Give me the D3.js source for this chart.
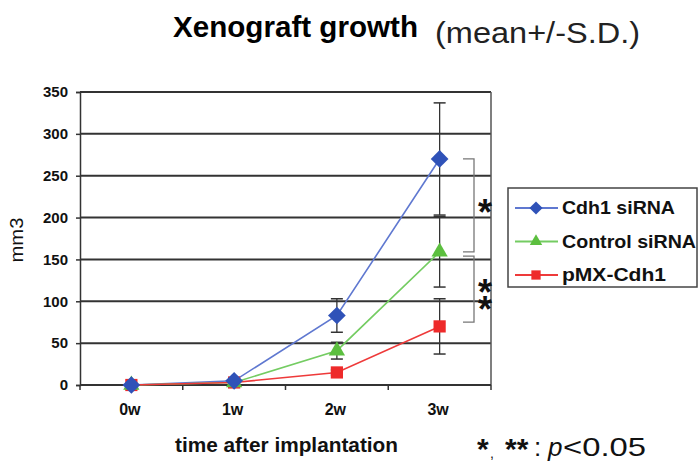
<!DOCTYPE html>
<html>
<head>
<meta charset="utf-8">
<script src="https://cdn.jsdelivr.net/npm/d3@7"></script>
<style>
  html, body { margin: 0; padding: 0; background: #fff; }
  svg { display: block; font-family: "Liberation Sans", Arial, sans-serif; }
</style>
</head>
<body>
<svg id="chart" width="698" height="466"></svg>
<script>
// Weeks after implantation
const weeks = ["0w", "1w", "2w", "3w"];
const yTicks = [0, 50, 100, 150, 200, 250, 300, 350];

// Tumour volume (mm3), mean and standard deviation per group
const cdh1Mean = [0, 5, 83, 270];
const cdh1SD = [0, 1, 20, 67];
const controlMean = [0, 3, 41, 159];
const controlSD = [0, 1, 10, 42];
const pmxMean = [0, 3, 15, 70];
const pmxSD = [0, 1, 3, 33];

const seriesNames = ["Cdh1 siRNA", "Control siRNA", "pMX-Cdh1"];

const series = [
  { name: seriesNames[0], mean: cdh1Mean, sd: cdh1SD, line: "#5f78d0", fill: "#2f52b8", shape: d3.symbolDiamond2, w: 113 },
  { name: seriesNames[1], mean: controlMean, sd: controlSD, line: "#74cc62", fill: "#5cbf3f", shape: d3.symbolTriangle2, w: 134 },
  { name: seriesNames[2], mean: pmxMean, sd: pmxSD, line: "#ee3a3a", fill: "#ee2a2a", shape: d3.symbolSquare2, w: 104 }
];

const svg = d3.select("#chart");
const m = { left: 80, right: 491, top: 92, bottom: 385 };

const x = d3.scaleBand().domain(weeks).range([m.left, m.right]);
const y = d3.scaleLinear().domain([0, 350]).range([m.bottom, m.top]);
const cx = w => x(w) + x.bandwidth() / 2;

// Title
svg.append("text").attr("x", 173).attr("y", 37)
  .attr("font-weight", "bold").attr("font-size", 30)
  .attr("textLength", 245).attr("lengthAdjust", "spacingAndGlyphs")
  .text("Xenograft growth");
svg.append("text").attr("x", 435).attr("y", 43)
  .attr("font-size", 30).attr("fill", "#222")
  .attr("textLength", 205).attr("lengthAdjust", "spacingAndGlyphs")
  .text("(mean+/-S.D.)");

// Horizontal gridlines
svg.append("g").selectAll("line").data(yTicks.filter(t => t > 0)).join("line")
  .attr("x1", m.left).attr("x2", m.right)
  .attr("y1", d => y(d)).attr("y2", d => y(d))
  .attr("stroke", "#333").attr("stroke-width", 2);

// Right border of plot area
svg.append("line").attr("x1", m.right).attr("x2", m.right)
  .attr("y1", m.top).attr("y2", m.bottom)
  .attr("stroke", "#555").attr("stroke-width", 1.5);

// Y axis
const yAxis = svg.append("g").attr("transform", `translate(${m.left},0)`)
  .call(d3.axisLeft(y).tickValues(yTicks).tickSize(4).tickPadding(8));
yAxis.select(".domain").attr("stroke", "#333").attr("stroke-width", 1.5);
yAxis.selectAll(".tick line").attr("stroke", "#333").attr("stroke-width", 1.5);
yAxis.selectAll("text").attr("font-size", 15).attr("font-weight", "bold")
  .attr("fill", "#111").attr("font-family", "Liberation Sans, Arial, sans-serif");

// X axis: ticks at band boundaries, labels at band centres
const xAxisG = svg.append("g").attr("transform", `translate(0,${m.bottom})`);
xAxisG.append("line").attr("x1", m.left).attr("x2", m.right)
  .attr("stroke", "#333").attr("stroke-width", 2);
const bounds = weeks.map(w => x(w)).concat([m.right]);
xAxisG.selectAll("line.t").data(bounds).join("line").attr("class", "t")
  .attr("x1", d => d).attr("x2", d => d).attr("y1", 0).attr("y2", 5)
  .attr("stroke", "#333").attr("stroke-width", 1.5);
xAxisG.selectAll("text").data(weeks).join("text")
  .attr("x", d => cx(d) - 1.5).attr("y", 30)
  .attr("text-anchor", "middle").attr("font-size", 16).attr("font-weight", "bold")
  .attr("fill", "#111").text(d => d);

// Axis titles
svg.append("text").attr("transform", "translate(23,240) rotate(-90)")
  .attr("text-anchor", "middle").attr("font-size", 18).attr("fill", "#111")
  .attr("textLength", 45).attr("lengthAdjust", "spacingAndGlyphs")
  .text("mm3");
svg.append("text").attr("x", 175).attr("y", 452)
  .attr("font-size", 20.5).attr("font-weight", "bold")
  .attr("textLength", 223).attr("lengthAdjust", "spacingAndGlyphs")
  .attr("fill", "#111").text("time after implantation");

// Error bars (drawn for points with visible spread)
const errG = svg.append("g");
series.forEach(s => {
  weeks.forEach((w, i) => {
    if (s.mean[i] < 10) return;
    const top = y(s.mean[i] + s.sd[i]), bot = y(s.mean[i] - s.sd[i]);
    const xc = cx(w);
    errG.append("line").attr("x1", xc).attr("x2", xc).attr("y1", top).attr("y2", bot)
      .attr("stroke", "#333").attr("stroke-width", 1.3);
    [top, bot].forEach(yy => errG.append("line")
      .attr("x1", xc - 6).attr("x2", xc + 6).attr("y1", yy).attr("y2", yy)
      .attr("stroke", "#333").attr("stroke-width", 1.5));
  });
});

// Lines and markers
const line = d3.line().x((d, i) => cx(weeks[i])).y(d => y(d));
series.forEach(s => {
  svg.append("path").datum(s.mean).attr("d", line)
    .attr("fill", "none").attr("stroke", s.line).attr("stroke-width", 1.6);
});
series.slice().reverse().forEach(s => {
  svg.append("g").selectAll("path").data(s.mean).join("path")
    .attr("transform", (d, i) => `translate(${cx(weeks[i])},${y(d)})`)
    .attr("d", d3.symbol().type(s.shape).size(s.shape === d3.symbolDiamond2 ? 200 : 190))
    .attr("fill", s.fill);
});

// Significance brackets
const bracket = (v1, v2) => {
  const y1 = y(v1), y2 = y(v2);
  svg.append("path")
    .attr("d", `M463,${y1}H474V${y2}H463`)
    .attr("fill", "none").attr("stroke", "#777").attr("stroke-width", 1.3);
};
bracket(cdh1Mean[3], controlMean[3]);
bracket(controlMean[3] - 5, pmxMean[3] + 5);
svg.append("text").attr("x", 485).attr("y", 225)
  .attr("text-anchor", "middle").attr("font-size", 36).attr("font-weight", "bold")
  .attr("fill", "#111").text("*");
// two stacked stars in one text run, one glyph per position
svg.append("text").attr("x", "485 485").attr("y", "305 322")
  .attr("text-anchor", "middle").attr("font-size", 36).attr("font-weight", "bold")
  .attr("fill", "#111").text("**");

// Legend
const lg = svg.append("g");
lg.append("rect").attr("x", 508).attr("y", 188).attr("width", 189).attr("height", 99)
  .attr("fill", "#fff").attr("stroke", "#444").attr("stroke-width", 1.5);
series.forEach((s, i) => {
  const yy = 208 + i * 33.5;
  lg.append("line").attr("x1", 515).attr("x2", 558).attr("y1", yy).attr("y2", yy)
    .attr("stroke", s.line).attr("stroke-width", 1.8);
  lg.append("path").attr("transform", `translate(536,${yy})`)
    .attr("d", d3.symbol().type(s.shape).size(110)).attr("fill", s.fill);
  lg.append("text").attr("x", 562).attr("y", yy + 6)
    .attr("font-size", 17.5).attr("font-weight", "bold").attr("fill", "#111")
    .attr("textLength", s.w).attr("lengthAdjust", "spacingAndGlyphs")
    .text(s.name);
});

// Significance note
const note = svg.append("text").attr("fill", "#111").attr("font-size", 26);
note.append("tspan").attr("x", 477).attr("y", 459).attr("font-size", 30).attr("font-weight", "bold").text("*");
note.append("tspan").attr("x", 490).attr("y", 458).attr("font-size", 14).text(",");
note.append("tspan").attr("x", 505).attr("y", 459).attr("font-size", 30).attr("font-weight", "bold").text("**");
note.append("tspan").attr("x", 534).attr("y", 456).text(":");
note.append("tspan").attr("x", 548).attr("y", 456).attr("font-style", "italic").text("p");
note.append("tspan").attr("x", 563).attr("y", 456)
  .attr("textLength", 83).attr("lengthAdjust", "spacingAndGlyphs").text("<0.05");
</script>
</body>
</html>
